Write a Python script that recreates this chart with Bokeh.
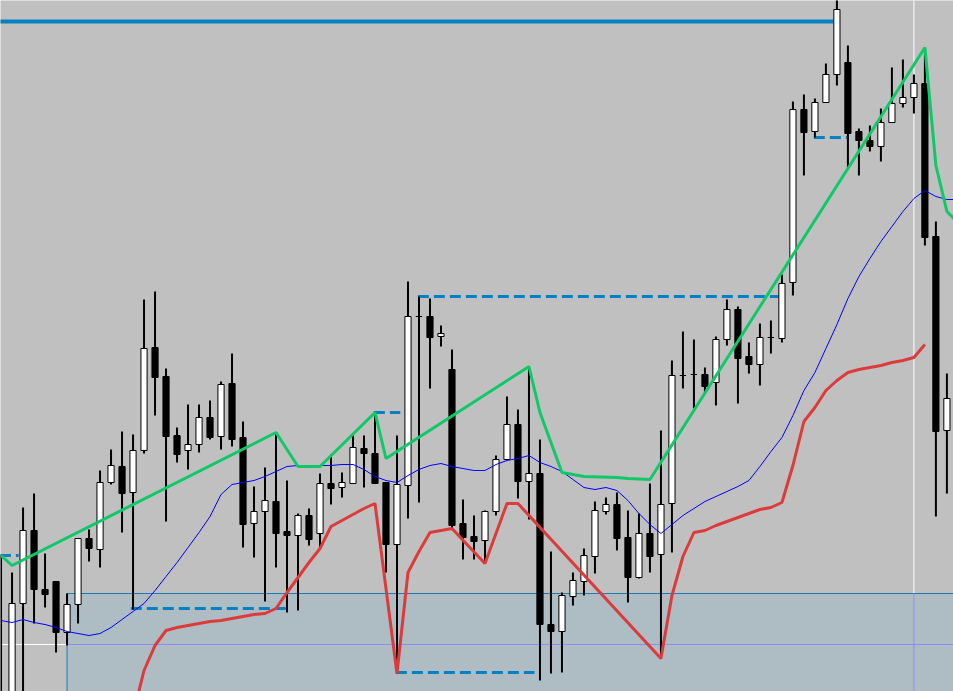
import numpy as np
from bokeh.plotting import figure
from bokeh.models import Range1d, ColumnDataSource
from bokeh.embed import file_html
from bokeh.resources import INLINE

# chart units: 0 = top of window, 691 = bottom (y axis runs downward)
bars = list(range(87))
open_ = [695, 705, 603, 530, 589, 581, 632, 604, 538, 549, 482, 466, 492, 450, 347, 376, 435, 450, 444, 417,
         436, 383, 437, 523, 511, 501, 531, 535, 515, 533, 483, 487, 483, 448, 453, 482, 544, 485, 316, 316,
         336, 369, 523, 536, 540, 511, 459, 424, 481, 473, 624, 631, 596, 581, 556, 511, 504, 537, 577, 533,
         554, 503, 375, 374, 374, 382, 339, 309, 356, 364, 337, 338, 282, 109, 131, 102, 74, 62, 131, 140,
         146, 122, 103, 97, 83, 236, 430]
high = [555, 572, 507, 493, 553, 581, 593, 538, 529, 470, 449, 431, 434, 299, 291, 368, 427, 404, 404, 400,
        381, 353, 421, 486, 467, 432, 480, 513, 508, 473, 454, 472, 433, 435, 412, 482, 435, 281, 296, 298,
        325, 349, 499, 515, 510, 455, 396, 409, 367, 439, 551, 592, 572, 548, 501, 497, 492, 510, 513, 483,
        430, 360, 331, 339, 367, 336, 299, 306, 342, 323, 320, 274, 101, 94, 98, 63, -10, 45, 128, 125,
        108, 67, 59, 74, 48, 221, 373]
low = [730, 715, 705, 623, 607, 652, 645, 623, 561, 567, 484, 532, 609, 453, 415, 521, 462, 469, 452, 439,
       449, 446, 547, 557, 601, 567, 612, 610, 545, 547, 504, 497, 483, 487, 483, 572, 673, 518, 502, 388,
       346, 528, 559, 559, 562, 515, 459, 498, 519, 680, 673, 672, 605, 595, 573, 514, 550, 602, 578, 572,
       656, 552, 388, 408, 393, 405, 345, 403, 373, 385, 353, 342, 295, 175, 137, 102, 85, 167, 175, 151,
       161, 122, 107, 113, 245, 516, 493]
close = [720, 603, 530, 589, 594, 632, 604, 538, 548, 482, 465, 493, 450, 348, 377, 436, 454, 444, 417, 437,
         384, 439, 524, 511, 500, 533, 535, 515, 539, 483, 488, 482, 447, 453, 483, 544, 484, 316, 316, 337,
         333, 525, 537, 541, 511, 459, 424, 481, 473, 624, 631, 595, 580, 555, 510, 504, 538, 577, 533, 556,
         504, 375, 375, 374, 386, 339, 309, 358, 364, 337, 337, 283, 109, 132, 102, 74, 9, 133, 140, 146,
         122, 103, 97, 83, 237, 431, 398]

# moving average (thin blue), one value per bar
ma_bars = list(range(88))
ma_vals = [620, 622, 619, 622, 624, 627, 631, 633, 635, 633, 627, 619, 611, 603, 590, 576, 562, 547, 532, 516,
           494, 484, 482, 480, 476, 471, 466, 465, 465, 465, 465, 464, 464, 469, 476, 480, 482, 475, 469, 465,
           463, 466, 468, 470, 470, 464, 460, 458, 455, 462, 466, 471, 479, 487, 489, 487, 490, 500, 513, 524,
           533, 524, 515, 508, 501, 496, 491, 486, 480, 466, 451, 437, 415, 390, 372, 348, 324, 298, 276, 258,
           241, 226, 211, 198, 190, 196, 199, 199]

# lower band (red), vertices
red_bars = [12, 13, 14, 15, 16, 17, 18, 19, 20, 21, 22, 23, 24, 25, 26, 27, 28, 29, 30, 31, 32, 33, 34,
            36, 37, 38, 39, 40, 41, 44, 46, 47, 60, 61, 62, 63, 64, 65, 66, 67, 68, 69, 70, 71, 72, 73, 74,
            75, 76, 77, 78, 79, 80, 81, 82, 83, 84]
red_vals = [714, 670, 645, 630, 627, 625, 623, 621, 620, 618, 616, 614, 613, 608, 592, 577, 562, 548, 526, 520,
            514, 508, 503, 673, 572, 551, 532, 530, 528, 563, 503, 503, 658, 595, 556, 532, 530, 525, 521, 517,
            513, 509, 507, 502, 465, 421, 407, 390, 380, 372, 369, 367, 365, 362, 360, 357, 344]

# upper band (green), vertices
green_bars = [0, 1, 25, 27, 29, 34, 35, 48, 49, 51, 53, 56, 57, 59, 84, 85, 86, 87]
green_vals = [555, 565, 432, 466, 466, 412, 458, 366, 412, 472, 476, 477, 478, 479, 47, 165, 211, 222]

# levels: (value, first bar, last bar)
top_level = (21, -0.1, 75.7)
dashed_levels = [(555, -0.1, 1.6), (608, 11.8, 26.1), (412, 33.9, 36.3),
                 (296, 37.9, 70.7), (672, 35.9, 48.5), (137, 73.9, 77.1)]

# crosshair and selection box
cross_bar = 83
cross_level = 644
box_left = 6
box_top = 593

p = figure(width=953, height=691, x_range=Range1d(-0.05, 86.6), y_range=Range1d(691, 0),
           output_backend="svg", toolbar_location=None, min_border=0,
           x_axis_location=None, y_axis_location=None,
           background_fill_color="#C0C0C0", border_fill_color="#C0C0C0", outline_line_color=None)
p.grid.visible = False

# crosshair (under the box)
p.segment(x0=[cross_bar, -1], y0=[-20, cross_level], x1=[cross_bar, box_left], y1=[box_top, cross_level],
          line_color="white", line_width=1)

# box
p.quad(left=[box_left], right=[120], top=[box_top], bottom=[900],
       fill_color="#AEBCC3", line_color="#1F7AAE", line_width=1)
p.segment(x0=[cross_bar, box_left], y0=[box_top, cross_level], x1=[cross_bar, 120], y1=[900, cross_level],
          line_color="#8C8CFF", line_width=1)

# levels
p.segment(x0=[top_level[1]], y0=[top_level[0]], x1=[top_level[2]], y1=[top_level[0]],
          line_color="#0680C4", line_width=4)
p.segment(x0=[d[1] for d in dashed_levels], y0=[d[0] for d in dashed_levels],
          x1=[d[2] for d in dashed_levels], y1=[d[0] for d in dashed_levels],
          line_color="#0680C4", line_width=3, line_dash="11 5")

# candles
o = np.array(open_)
c = np.array(close)
colors = ["white" if cc <= oo else "black" for oo, cc in zip(o, c)]
src = ColumnDataSource(dict(x=bars, o=open_, h=high, l=low, c=close, color=colors))
p.segment(x0="x", y0="h", x1="x", y1="l", source=src, line_color="black", line_width=2)
p.vbar(x="x", width=0.56, top="o", bottom="c", source=src,
       fill_color="color", line_color="black", line_width=1)

# indicator lines
p.line(ma_bars, ma_vals, line_color="#0000FF", line_width=1)
p.line(red_bars, red_vals, line_color="#DD3B3B", line_width=3)
p.line(green_bars, green_vals, line_color="#0FC968", line_width=3)

open("out.html", "w").write(file_html(p, INLINE))
